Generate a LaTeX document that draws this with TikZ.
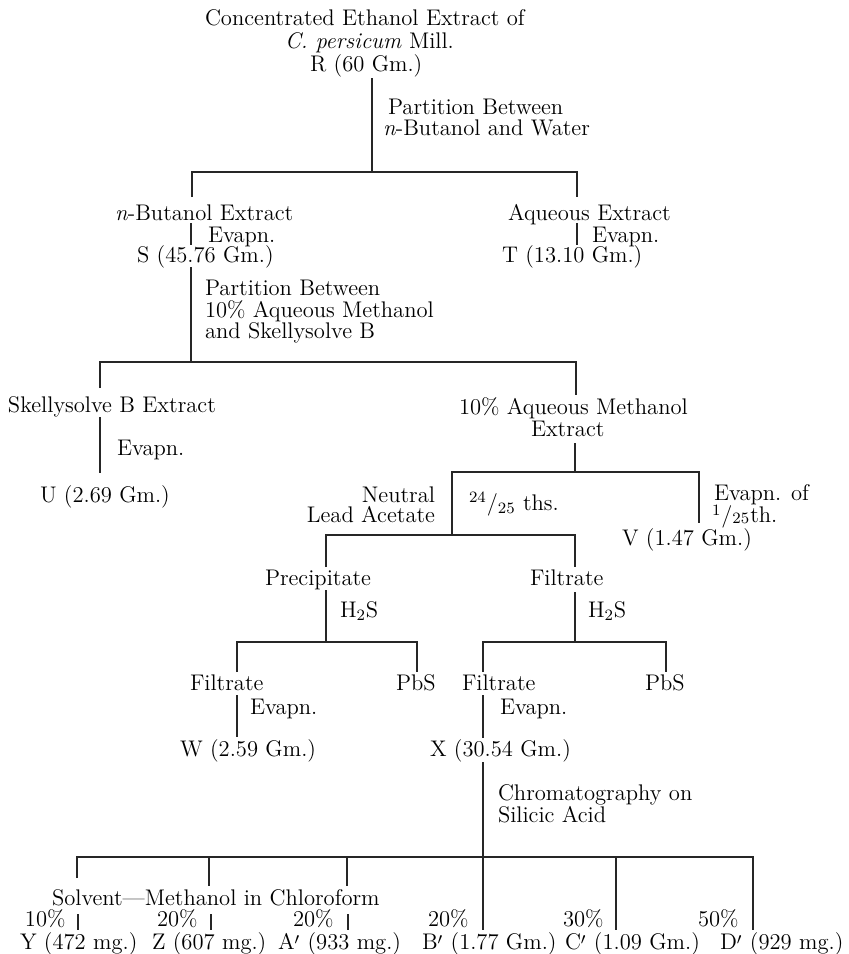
\documentclass[tikz,border=0pt]{standalone}
\newcommand{\pr}{\smash{\raisebox{-1.6pt}{$'$}}}
\begin{document}
\begin{tikzpicture}[x=0.5pt,y=-0.5pt,
  every node/.style={inner sep=0pt,outer sep=0pt,font=\fontsize{11.3}{11.3}\selectfont},
  lbl/.style={anchor=base west},
  rlbl/.style={anchor=base east},
  conn/.style={line width=0.6pt,draw=black!85}]
\useasboundingbox (0,0) rectangle (848,954);
% ---------- top ----------
\node[lbl] (r1) at (205,25) {Concentrated Ethanol Extract of};
\node[lbl] (r2) at (285,48) {\textit{C. persicum} Mill.};
\node[lbl] (R) at (310,71) {R (60 Gm.)};
\node[lbl] (p1a) at (388,114) {Partition Between};
\node[lbl] (p1b) at (383,135) {\textit{n}-Butanol and Water};
\coordinate (R0) at (372,78);
\coordinate (b1m) at (372,172);
\coordinate (b1l) at (192,172);
\coordinate (b1r) at (577,172);
\coordinate (b1lt) at (192,197);
\coordinate (b1rt) at (577,197);
\draw[conn] (R0) -- (b1m);
\draw[conn] (b1lt) -- (b1l) -- (b1r) -- (b1rt);
% ---------- n-butanol / aqueous ----------
\node[lbl] (nb) at (115,220) {\textit{n}-Butanol Extract};
\node[lbl] (ev1) at (208,242) {Evapn.};
\node[lbl] (S) at (137,262) {S (45.76 Gm.)};
\coordinate (s1) at (191,223); \coordinate (s2) at (191,245);
\draw[conn] (s1) -- (s2);
\node[lbl] (aq) at (508,220) {Aqueous Extract};
\node[lbl] (ev2) at (592,242) {Evapn.};
\node[lbl] (T) at (502,262) {T (13.10 Gm.)};
\coordinate (t1) at (577,223); \coordinate (t2) at (577,245);
\draw[conn] (t1) -- (t2);
% ---------- second partition ----------
\node[lbl] (p2a) at (205,295) {Partition Between};
\node[lbl] (p2b) at (205,317) {10\% Aqueous Methanol};
\node[lbl] (p2c) at (205,338) {and Skellysolve B};
\coordinate (S0) at (191,267);
\coordinate (b2m) at (191,362);
\coordinate (b2l) at (100,362);
\coordinate (b2r) at (576,362);
\coordinate (b2lt) at (100,388);
\coordinate (b2rt) at (576,395);
\draw[conn] (S0) -- (b2m);
\draw[conn] (b2lt) -- (b2l) -- (b2r) -- (b2rt);
% ---------- Skellysolve branch ----------
\node[lbl] (sk) at (8,412) {Skellysolve B Extract};
\node[lbl] (ev3) at (117,455) {Evapn.};
\node[lbl] (U) at (40,502) {U (2.69 Gm.)};
\coordinate (u1) at (100,417); \coordinate (u2) at (100,473);
\draw[conn] (u1) -- (u2);
% ---------- aqueous methanol branch ----------
\node[lbl] (am1) at (459,414) {10\% Aqueous Methanol};
\node[lbl] (am2) at (531,436) {Extract};
\coordinate (am0) at (575,443);
\coordinate (b3m) at (575,472);
\coordinate (b3l) at (452,472);
\coordinate (b3r) at (699,472);
\coordinate (b3rt) at (699,523);
\coordinate (b3lt) at (452,535);
\draw[conn] (am0) -- (b3m);
\draw[conn] (b3lt) -- (b3l) -- (b3r) -- (b3rt);
\node[rlbl] (ne1) at (435,502) {Neutral};
\node[rlbl] (ne2) at (435,522) {Lead Acetate};
\node[lbl] (fr1) at (469,510) {\smash{\textsuperscript{24}/\textsubscript{25}} ths.};
\node[lbl] (ev4a) at (714,500) {Evapn. of};
\node[lbl] (ev4b) at (712,522) {\smash{\raisebox{-0.6pt}{\textsuperscript{1}}/\raisebox{0.8pt}{\textsubscript{25}}}th.};
\node[lbl] (V) at (622,545) {V (1.47 Gm.)};
% ---------- lead acetate bracket ----------
\coordinate (b4l) at (326,535);
\coordinate (b4r) at (575,535);
\coordinate (b4lt) at (326,567);
\coordinate (b4rt) at (575,567);
\draw[conn] (b4lt) -- (b4l) -- (b4r) -- (b4rt);
\node[lbl] (pr) at (265,585) {Precipitate};
\node[lbl] (fi) at (530,585) {Filtrate};
\node[lbl] (h1) at (340,617) {H\textsubscript{2}S};
\node[lbl] (h2) at (588,617) {H\textsubscript{2}S};
\coordinate (pr0) at (326,590);
\coordinate (b5m) at (326,642);
\coordinate (b5l) at (237,642);
\coordinate (b5r) at (417,642);
\coordinate (b5lt) at (237,672);
\coordinate (b5rt) at (417,672);
\draw[conn] (pr0) -- (b5m);
\draw[conn] (b5lt) -- (b5l) -- (b5r) -- (b5rt);
\coordinate (fi0) at (575,592);
\coordinate (b6m) at (575,642);
\coordinate (b6l) at (483,642);
\coordinate (b6r) at (666,642);
\coordinate (b6lt) at (483,672);
\coordinate (b6rt) at (666,672);
\draw[conn] (fi0) -- (b6m);
\draw[conn] (b6lt) -- (b6l) -- (b6r) -- (b6rt);
\node[lbl] (f1) at (190,690) {Filtrate};
\node[lbl] (pb1) at (396,690) {PbS};
\node[lbl] (f2) at (462,690) {Filtrate};
\node[lbl] (pb2) at (645,690) {PbS};
\node[lbl] (ev5) at (250,714) {Evapn.};
\node[lbl] (ev6) at (500,714) {Evapn.};
\node[lbl] (W) at (180,756) {W (2.59 Gm.)};
\node[lbl] (X) at (430,756) {X (30.54 Gm.)};
\coordinate (w1) at (237,695); \coordinate (w2) at (237,737);
\draw[conn] (w1) -- (w2);
\coordinate (x1) at (483,695); \coordinate (x2) at (483,738);
\draw[conn] (x1) -- (x2);
% ---------- chromatography ----------
\node[lbl] (ch1) at (498,800) {Chromatography on};
\node[lbl] (ch2) at (498,822) {Silicic Acid};
\coordinate (X0) at (483,762);
\coordinate (b7m) at (483,857);
\coordinate (b7l) at (77,857);
\coordinate (b7r) at (753,857);
\coordinate (b7mt) at (483,930);
\draw[conn] (X0) -- (b7m) -- (b7mt);
\coordinate (k1) at (77,878);
\coordinate (k2a) at (209,857); \coordinate (k2) at (209,886);
\coordinate (k3a) at (347,857); \coordinate (k3) at (347,886);
\coordinate (k5a) at (616,857); \coordinate (k5) at (616,930);
\coordinate (k6) at (753,930);
\draw[conn] (k1) -- (b7l) -- (b7r) -- (k6);
\draw[conn] (k2a) -- (k2);
\draw[conn] (k3a) -- (k3);
\draw[conn] (k5a) -- (k5);
\node[lbl] (solv) at (52,905) {Solvent---Methanol in Chloroform};
\node[lbl] (pc1) at (25,926) {10\%};
\node[lbl] (pc2) at (157,926) {20\%};
\node[lbl] (pc3) at (293,926) {20\%};
\node[lbl] (pc4) at (428,926) {20\%};
\node[lbl] (pc5) at (563,926) {30\%};
\node[lbl] (pc6) at (698,926) {50\%};
\coordinate (m1a) at (78,914); \coordinate (m1b) at (78,930);
\coordinate (m2a) at (211,914); \coordinate (m2b) at (211,930);
\coordinate (m3a) at (348,914); \coordinate (m3b) at (348,930);
\draw[conn] (m1a) -- (m1b);
\draw[conn] (m2a) -- (m2b);
\draw[conn] (m3a) -- (m3b);
\node[lbl] (Y) at (20,949) {Y (472 mg.)};
\node[lbl] (Z) at (152,949) {Z (607 mg.)};
\node[lbl] (Ap) at (278,949) {A\pr{} (933 mg.)};
\node[lbl] (Bp) at (422,949) {B\pr{} (1.77 Gm.)};
\node[lbl] (Cp) at (565,949) {C\pr{} (1.09 Gm.)};
\node[lbl] (Dp) at (720,949) {D\pr{} (929 mg.)};
\end{tikzpicture}
\end{document}
